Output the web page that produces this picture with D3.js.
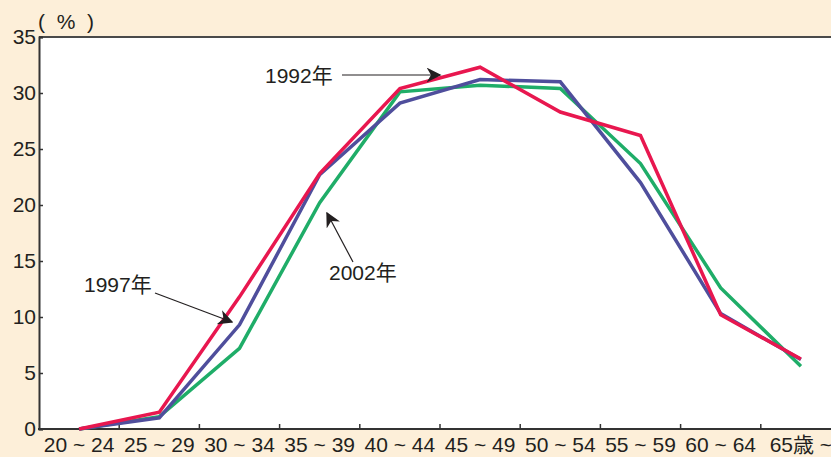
<!DOCTYPE html>
<html>
<head>
<meta charset="utf-8">
<script src="https://cdnjs.cloudflare.com/ajax/libs/d3/7.8.5/d3.min.js"></script>
<style>
  body { margin: 0; background: #fdefd9; }
  svg { display: block; }
  text { font-family: "Liberation Sans", Arial, "Noto Sans CJK JP", sans-serif; fill: #231f20; }
</style>
</head>
<body>
<div id="chart"></div>
<script>
const categories = ['20 ~ 24', '25 ~ 29', '30 ~ 34', '35 ~ 39', '40 ~ 44',
                    '45 ~ 49', '50 ~ 54', '55 ~ 59', '60 ~ 64', '65歳 ~'];
const yTicks = [0, 5, 10, 15, 20, 25, 30, 35];

const v1992 = [0, 1.5, 11.8, 22.8, 30.4, 32.3, 28.3, 26.2, 10.2, 6.25];
const v1997 = [0, 1.0, 9.3, 22.7, 29.1, 31.2, 31.0, 22.0, 10.3, 6.2];
const v2002 = [0, 1.1, 7.2, 20.2, 30.1, 30.7, 30.4, 23.7, 12.6, 5.6];

const width = 831, height = 457;
const plotL = 39, plotT = 37, plotB = 429, plotR = 841;
const fontSize = '21px';

const svg = d3.select('#chart').append('svg')
    .attr('width', width)
    .attr('height', height);

const x = d3.scaleBand().domain(categories).range([plotL, plotR]);
const y = d3.scaleLinear().domain([0, 35]).range([plotB, plotT]);
const cx = c => x(c) + x.bandwidth() / 2;

// plot area
svg.append('rect')
    .attr('x', plotL).attr('y', plotT)
    .attr('width', plotR - plotL).attr('height', plotB - plotT)
    .attr('fill', '#fff');

// top border
svg.append('line')
    .attr('x1', plotL).attr('x2', width)
    .attr('y1', plotT).attr('y2', plotT)
    .attr('stroke', '#4a4a4a').attr('stroke-width', 2);

// y axis
const yAxis = svg.append('g')
    .attr('transform', `translate(${plotL},0)`)
    .call(d3.axisLeft(y).tickValues(yTicks).tickSize(-4).tickPadding(3));
yAxis.select('.domain').attr('stroke', '#333').attr('stroke-width', 2);
yAxis.selectAll('.tick line').attr('stroke', '#333').attr('stroke-width', 1.5);
yAxis.selectAll('.tick text')
    .style('font-size', fontSize).attr('fill', '#231f20').attr('dy', '0.3em');

// x axis
const xAxis = svg.append('g')
    .attr('transform', `translate(0,${plotB})`)
    .call(d3.axisBottom(x).tickSize(0).tickPadding(5));
xAxis.select('.domain').remove();
svg.append('line')
    .attr('x1', plotL - 1).attr('x2', width)
    .attr('y1', plotB).attr('y2', plotB)
    .attr('stroke', '#333').attr('stroke-width', 2);
xAxis.selectAll('.tick text')
    .style('font-size', fontSize).attr('fill', '#231f20').attr('dy', '0.85em');

// boundary ticks
svg.append('g')
    .selectAll('line')
    .data(categories.slice(1))
    .join('line')
    .attr('x1', d => x(d)).attr('x2', d => x(d))
    .attr('y1', plotB).attr('y2', plotB - 5)
    .attr('stroke', '#333').attr('stroke-width', 1.5);

// unit label
svg.append('text')
    .attr('x', 38).attr('y', 29)
    .style('font-size', fontSize)
    .attr('xml:space', 'preserve')
    .text('(  %  )');

// lines
const line = d3.line()
    .x((d, i) => cx(categories[i]))
    .y(d => y(d));

const series = [
    { values: v2002, color: '#1fad68' },
    { values: v1997, color: '#4f4e9c' },
    { values: v1992, color: '#e8174f' }
];

svg.append('g')
    .selectAll('path')
    .data(series)
    .join('path')
    .attr('d', d => line(d.values))
    .attr('fill', 'none')
    .attr('stroke', d => d.color)
    .attr('stroke-width', 3.5)
    .attr('stroke-linejoin', 'miter');

// annotation arrows
svg.append('defs').append('marker')
    .attr('id', 'arrow')
    .attr('viewBox', '0 0 10 10')
    .attr('refX', 9).attr('refY', 5)
    .attr('markerWidth', 15).attr('markerHeight', 15)
    .attr('markerUnits', 'userSpaceOnUse')
    .attr('orient', 'auto')
    .append('path')
    .attr('d', 'M0,0 L10,5 L0,10 L3,5 Z')
    .attr('fill', '#231f20');

const notes = [
    { label: '1992年', tx: 265, ty: 83, x1: 342, y1: 75, x2: 440, y2: 75 },
    { label: '1997年', tx: 84, ty: 292, x1: 155, y1: 293, x2: 232, y2: 322 },
    { label: '2002年', tx: 329, ty: 280, x1: 353, y1: 262, x2: 327, y2: 213 }
];

svg.append('g')
    .selectAll('line')
    .data(notes)
    .join('line')
    .attr('x1', d => d.x1).attr('y1', d => d.y1)
    .attr('x2', d => d.x2).attr('y2', d => d.y2)
    .attr('stroke', '#231f20').attr('stroke-width', 1.2)
    .attr('marker-end', 'url(#arrow)');

svg.append('g')
    .selectAll('text')
    .data(notes)
    .join('text')
    .attr('x', d => d.tx).attr('y', d => d.ty)
    .style('font-size', fontSize)
    .text(d => d.label);
</script>
</body>
</html>
